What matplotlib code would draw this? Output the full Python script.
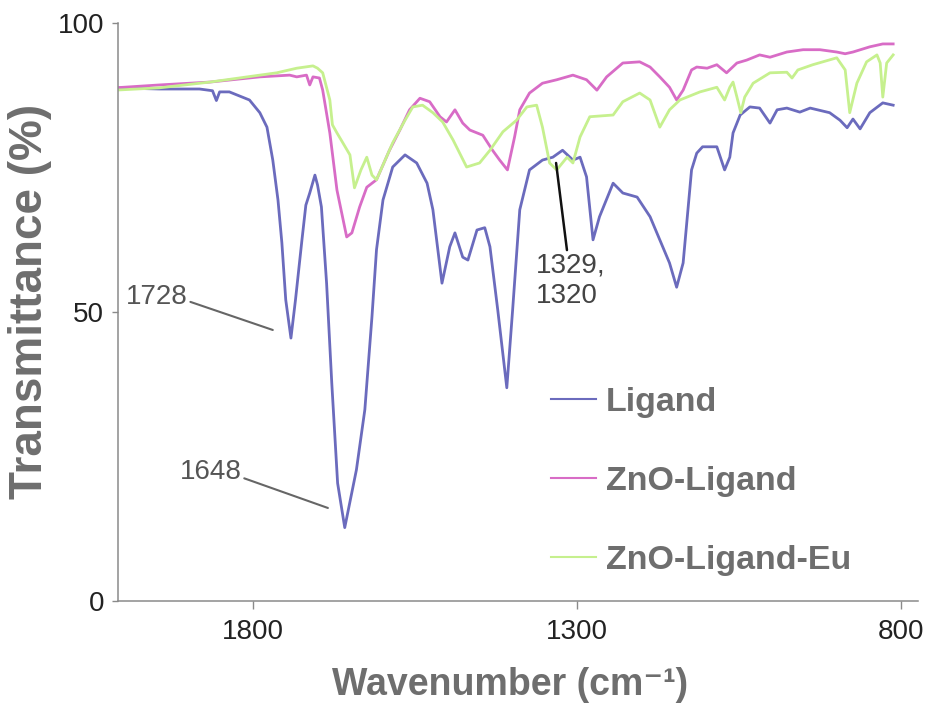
import matplotlib
matplotlib.use('Agg')
import matplotlib.pyplot as plt

plt.rcParams['font.family'] = ['Liberation Sans', 'DejaVu Sans']

# FTIR spectra
ligand_wn = [2013, 1944, 1882, 1862, 1856, 1851, 1836, 1805, 1789, 1778, 1769, 1761, 1755, 1749,
             1741, 1734, 1724, 1718, 1712, 1704, 1700, 1694, 1686, 1678, 1669, 1658, 1640, 1627,
             1616, 1609, 1599, 1584, 1565, 1547, 1531, 1522, 1508, 1496, 1488, 1476, 1468, 1454,
             1442, 1434, 1422, 1408, 1399, 1388, 1373, 1353, 1337, 1322, 1306, 1295, 1285, 1275,
             1265, 1244, 1229, 1207, 1187, 1172, 1157, 1146, 1136, 1123, 1115, 1106, 1084, 1072,
             1064, 1059, 1048, 1033, 1018, 1002, 991, 976, 956, 940, 910, 894, 883, 874, 863, 848,
             828, 812]
ligand_t = [88.8, 88.6, 88.6, 88.3, 86.6, 88.1, 88.1, 86.7, 84.5, 82.0, 76.3, 69.4, 62.0, 52.1,
            45.5, 52.1, 62.5, 68.5, 70.6, 73.7, 72.0, 68.2, 55.0, 37.7, 20.4, 12.7, 22.7, 33.1,
            49.2, 60.8, 69.4, 75.1, 77.2, 75.8, 72.3, 67.7, 55.0, 61.3, 63.7, 59.5, 59.0, 64.2,
            64.6, 61.3, 50.4, 36.9, 50.4, 67.7, 74.6, 76.3, 76.8, 78.0, 76.3, 76.8, 73.4, 62.5,
            66.5, 72.3, 70.6, 69.9, 66.5, 62.5, 58.5, 54.3, 58.5, 74.6, 77.5, 78.6, 78.6, 74.6,
            76.8, 81.0, 84.1, 85.5, 85.3, 82.7, 85.0, 85.3, 84.6, 85.3, 84.5, 83.2, 81.9, 83.4,
            81.7, 84.5, 86.2, 85.8]

zno_wn = [2013, 1944, 1866, 1789, 1743, 1732, 1717, 1712, 1707, 1697, 1692, 1681, 1670, 1655,
          1647, 1635, 1624, 1609, 1589, 1573, 1558, 1542, 1527, 1511, 1501, 1488, 1476, 1465,
          1445, 1430, 1419, 1407, 1396, 1388, 1373, 1353, 1331, 1306, 1285, 1269, 1254, 1229,
          1203, 1187, 1172, 1157, 1146, 1136, 1123, 1115, 1099, 1084, 1069, 1053, 1038, 1018,
          1002, 976, 951, 925, 899, 886, 874, 848, 828, 812]
zno_t = [88.8, 89.3, 89.8, 90.7, 91.0, 90.7, 91.0, 89.3, 90.7, 90.5, 88.4, 81.0, 71.1, 63.0,
         63.7, 68.2, 71.6, 72.9, 78.0, 81.5, 85.0, 87.0, 86.4, 83.8, 82.9, 85.0, 82.7, 81.5,
         80.6, 78.0, 76.3, 74.6, 80.3, 85.0, 87.9, 89.6, 90.2, 91.0, 90.2, 88.4, 90.7, 93.1,
         93.3, 92.4, 90.7, 88.9, 86.7, 88.4, 91.9, 92.4, 92.2, 92.8, 91.4, 93.1, 93.6, 94.5,
         94.1, 95.0, 95.4, 95.4, 95.0, 94.7, 95.0, 95.9, 96.4, 96.4]

eu_wn = [2013, 1944, 1866, 1789, 1763, 1732, 1707, 1700, 1692, 1681, 1677, 1670, 1661, 1650,
         1643, 1633, 1624, 1616, 1609, 1584, 1565, 1553, 1538, 1522, 1507, 1491, 1470, 1450,
         1434, 1414, 1393, 1377, 1362, 1353, 1342, 1331, 1315, 1306, 1295, 1280, 1244, 1229,
         1203, 1187, 1172, 1157, 1141, 1110, 1084, 1072, 1064, 1059, 1053, 1047, 1041, 1028,
         1002, 976, 968, 959, 936, 899, 886, 879, 868, 853, 837, 832, 828, 822, 812]
eu_t = [88.4, 88.8, 89.8, 91.0, 91.4, 92.2, 92.6, 92.2, 91.4, 86.7, 82.4, 81.0, 79.3, 77.2,
        71.5, 74.6, 76.8, 73.7, 72.9, 79.3, 83.2, 85.5, 85.8, 84.5, 82.9, 79.8, 75.1, 75.8,
        78.0, 81.2, 83.2, 85.5, 85.8, 82.0, 75.8, 74.6, 76.8, 75.8, 80.3, 83.8, 84.1, 86.4,
        87.9, 86.7, 82.0, 85.0, 86.7, 88.1, 88.9, 86.7, 88.9, 89.8, 87.2, 84.5, 87.2, 89.6,
        91.4, 91.5, 90.5, 91.9, 92.8, 94.0, 91.9, 84.5, 89.6, 93.3, 94.5, 93.1, 87.2, 93.1, 94.5]

labels = ['Ligand', 'ZnO-Ligand', 'ZnO-Ligand-Eu']
colors = ['#6b6bbd', '#d86cc6', '#c6f08e']

fig = plt.figure(figsize=(9.28, 7.05), dpi=100)
ax = fig.add_axes([0.127, 0.1475, 0.862, 0.8197])

for wn, t, lab, c in zip([ligand_wn, zno_wn, eu_wn], [ligand_t, zno_t, eu_t], labels, colors):
    ax.plot(wn, t, color=c, lw=2.0, label=lab)

ax.set_xlim(2008, 774)
ax.set_ylim(0, 100)
ax.set_xticks([1800, 1300, 800])
ax.set_yticks([0, 50, 100])
for side in ('top', 'right'):
    ax.spines[side].set_visible(False)
for side in ('left', 'bottom'):
    ax.spines[side].set_color('#8a8a8a')
    ax.spines[side].set_linewidth(1.1)
ax.tick_params(axis='x', direction='out', length=6, width=1, color='#8a8a8a',
               labelsize=20, labelcolor='#222222', pad=7)
ax.tick_params(axis='y', direction='out', length=4, width=1, color='#8a8a8a',
               labelsize=20, labelcolor='#222222', pad=6)

ax.set_xlabel('Wavenumber (cm\u207b\u00b9)', fontsize=27, fontweight='bold', color='#6e6e6e',
              va='baseline')
ax.set_ylabel('Transmittance (%)', fontsize=33, fontweight='bold', color='#6e6e6e',
              va='center')
ax.xaxis.set_label_coords(0.49, -0.1626)
ax.yaxis.set_label_coords(-0.11, 0.519)

# peak annotations
ax.annotate('1728', xy=(1769, 46.9), xytext=(1948, 52.6), ha='center', va='center',
            fontsize=20, color='#555555',
            arrowprops=dict(arrowstyle='-', color='#666666', lw=1.5, shrinkA=0, shrinkB=0,
                            relpos=(1.0, 0.35)))
ax.annotate('1648', xy=(1684, 16.1), xytext=(1865, 22.3), ha='center', va='center',
            fontsize=20, color='#555555',
            arrowprops=dict(arrowstyle='-', color='#666666', lw=1.5, shrinkA=0, shrinkB=0,
                            relpos=(1.0, 0.3)))
ax.annotate('1329,\n1320', xy=(1332, 75.8), xytext=(1363, 55.4), ha='left', va='center',
            fontsize=20, color='#444444', linespacing=1.2,
            arrowprops=dict(arrowstyle='-', color='#111111', lw=1.8, shrinkA=0, shrinkB=0,
                            relpos=(0.45, 1.0)))

leg = ax.legend(loc='upper left', bbox_to_anchor=(551 / 928, 1 - 387 / 705),
                bbox_transform=fig.transFigure, frameon=False, borderpad=0, borderaxespad=0,
                fontsize=24.5, handlelength=1.32, handletextpad=0.3, labelspacing=1.41)
for txt in leg.get_texts():
    txt.set_fontweight('bold')
    txt.set_color('#6e6e6e')
for line in leg.get_lines():
    line.set_linewidth(1.5)

fig.savefig('out.png', dpi=100)
